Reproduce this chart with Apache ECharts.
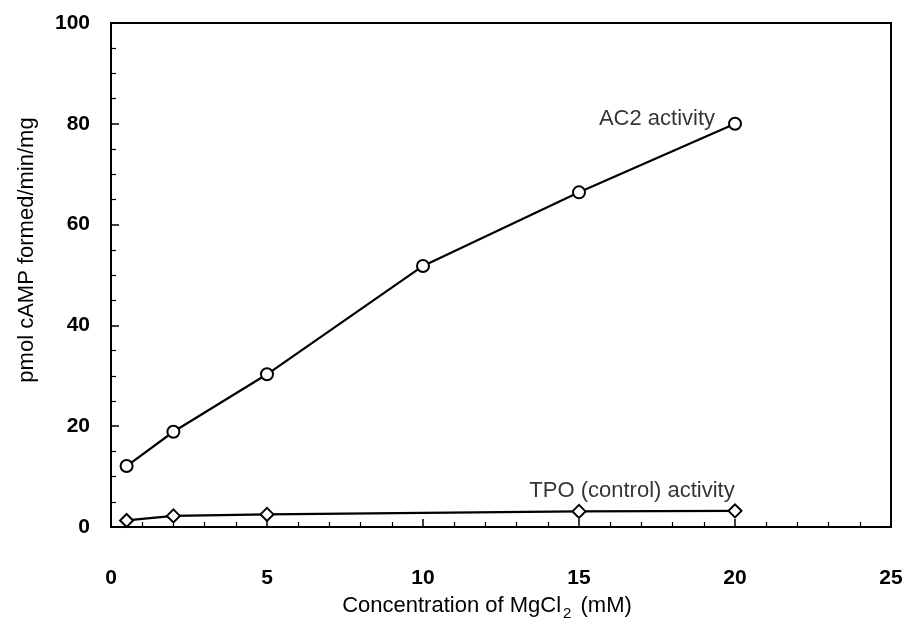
<!DOCTYPE html>
<html>
<head>
<meta charset="utf-8">
<script src="https://cdn.jsdelivr.net/npm/echarts@6/dist/echarts.min.js"></script>
<style>
html,body{margin:0;padding:0;background:#fff;}
#chart{width:907px;height:626px;}
</style>
</head>
<body>
<div id="chart"></div>
<script>
// Data
var concAC2 = [0.5, 2, 5, 10, 15, 20];
var ac2Activity = [12.1, 18.9, 30.3, 51.8, 66.4, 80.0];
var concTPO = [0.5, 2, 5, 15, 20];
var tpoActivity = [1.3, 2.2, 2.5, 3.1, 3.2];
var xTicks = [0, 5, 10, 15, 20, 25];
var yTicks = [0, 20, 40, 60, 80, 100];
var seriesLabels = ['AC2 activity', 'TPO (control) activity'];
var labelAnchors = [[17.5, 81.0], [16.7, 7.2]];

var chart = echarts.init(document.getElementById('chart'));
var fontFam = '"Liberation Sans", Arial, Helvetica, sans-serif';

function pairs(xs, ys) { return xs.map(function (x, i) { return [x, ys[i]]; }); }

chart.setOption({
  animation: false,
  backgroundColor: '#fff',
  grid: { left: 111, right: 16, top: 23, bottom: 91, show: true, borderColor: '#000', borderWidth: 2, backgroundColor: 'transparent' },
  xAxis: {
    type: 'value', min: xTicks[0], max: xTicks[xTicks.length - 1], interval: 5,
    name: '{n|Concentration of MgCl}{s|2}{n| (mM)}',
    nameLocation: 'middle', nameGap: 63,
    nameTextStyle: {
      padding: [0, 28, 0, 0],
      rich: {
        n: { fontSize: 22, fontFamily: fontFam, color: '#000' },
        s: { fontSize: 15, fontFamily: fontFam, color: '#000', padding: [16, 3, 0, 2] }
      }
    },
    axisLine: { show: true, lineStyle: { color: '#000', width: 2 } },
    axisTick: { show: true, inside: true, length: 8, lineStyle: { color: '#000', width: 1.5 } },
    minorTick: { show: true, splitNumber: 5, length: 5, lineStyle: { color: '#000', width: 1.2 } },
    splitLine: { show: false },
    axisLabel: { margin: 41, fontSize: 21, fontWeight: 'bold', fontFamily: fontFam, color: '#000' }
  },
  yAxis: {
    type: 'value', min: yTicks[0], max: yTicks[yTicks.length - 1], interval: 20,
    name: 'pmol cAMP formed/min/mg',
    nameLocation: 'middle', nameGap: 73,
    nameTextStyle: { fontSize: 22, fontFamily: fontFam, color: '#000', padding: [0, 0, 0, 50] },
    axisLine: { show: true, lineStyle: { color: '#000', width: 2 } },
    axisTick: { show: true, inside: true, length: 8, lineStyle: { color: '#000', width: 1.5 } },
    minorTick: { show: true, splitNumber: 4, length: 5, lineStyle: { color: '#000', width: 1.2 } },
    splitLine: { show: false },
    axisLabel: { margin: 21, fontSize: 21, fontWeight: 'bold', fontFamily: fontFam, color: '#000' }
  },
  series: [
    {
      name: seriesLabels[0], type: 'line', data: pairs(concAC2, ac2Activity),
      symbol: 'circle', symbolSize: 12, showAllSymbol: true,
      lineStyle: { color: '#000', width: 2.2 },
      itemStyle: { color: '#fff', borderColor: '#000', borderWidth: 2 }
    },
    {
      name: seriesLabels[1], type: 'line', data: pairs(concTPO, tpoActivity),
      symbol: 'diamond', symbolSize: 13, showAllSymbol: true,
      lineStyle: { color: '#000', width: 2.2 },
      itemStyle: { color: '#fff', borderColor: '#000', borderWidth: 2 }
    },
    {
      type: 'scatter', silent: true, symbolSize: 0,
      data: labelAnchors,
      label: {
        show: true, position: 'inside', color: '#000', fontSize: 22, fontFamily: fontFam,
        formatter: function (p) { return seriesLabels[p.dataIndex]; }
      }
    }
  ]
});
</script>
</body>
</html>
